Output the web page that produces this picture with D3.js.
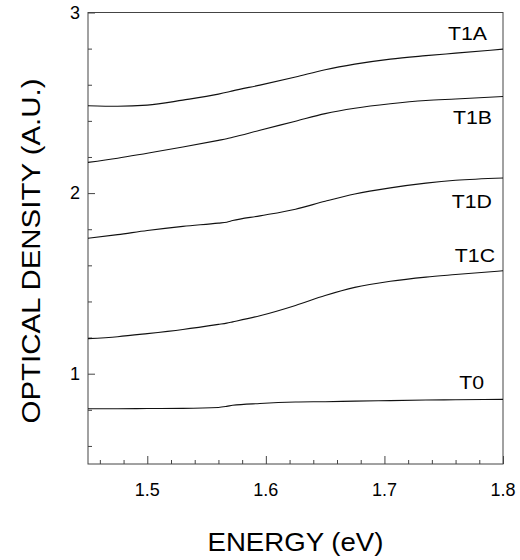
<!DOCTYPE html>
<html>
<head>
<meta charset="utf-8">
<script src="https://cdn.jsdelivr.net/npm/d3@7"></script>
<style>
  body { margin: 0; background: #fff; }
  svg { font-family: Arial, "Liberation Sans", sans-serif; }
</style>
</head>
<body>
<script>
// energy in eV, shared by all curves
const energy = [1.45, 1.475, 1.50, 1.53, 1.56, 1.567, 1.572, 1.595, 1.625, 1.65, 1.675, 1.705, 1.735, 1.76, 1.80]

// optical density for each sample
const t1a = [2.484, 2.481, 2.487, 2.515, 2.548, 2.558, 2.566, 2.598, 2.643, 2.683, 2.714, 2.742, 2.761, 2.775, 2.797]
const t1b = [2.170, 2.193, 2.221, 2.255, 2.292, 2.301, 2.309, 2.348, 2.398, 2.440, 2.470, 2.495, 2.513, 2.521, 2.535]
const t1d = [1.750, 1.770, 1.793, 1.816, 1.834, 1.839, 1.848, 1.874, 1.911, 1.955, 1.995, 2.029, 2.055, 2.071, 2.084]
const t1c = [1.194, 1.205, 1.222, 1.245, 1.273, 1.280, 1.287, 1.321, 1.378, 1.433, 1.478, 1.512, 1.535, 1.549, 1.570]
const t0  = [0.806, 0.806, 0.807, 0.808, 0.813, 0.819, 0.825, 0.835, 0.843, 0.845, 0.848, 0.851, 0.854, 0.856, 0.858]

const seriesNames = ["T1A", "T1B", "T1D", "T1C", "T0"]
const seriesValues = [t1a, t1b, t1d, t1c, t0]
// where each name sits (right end of text, baseline), in data units
const labelEnergy  = [1.7865, 1.7907, 1.7907, 1.7933, 1.784]
const labelDensity = [2.849, 2.384, 1.920, 1.621, 0.913]

const xTicks = [1.5, 1.6, 1.7, 1.8]
const yTicks = [1, 2, 3]

const width = 520, height = 560
const margin = {top: 12.5, right: 17, bottom: 96, left: 88}

const svg = d3.select("body").append("svg")
    .attr("width", width)
    .attr("height", height)

const x = d3.scaleLinear().domain([1.45, 1.8]).range([margin.left, width - margin.right])
const y = d3.scaleLinear().domain([0.5, 3]).range([height - margin.bottom, margin.top])

const frameColor = "#444"

// frame
svg.append("rect")
    .attr("x", x(1.45)).attr("y", y(3))
    .attr("width", x(1.8) - x(1.45)).attr("height", y(0.5) - y(3))
    .attr("fill", "none").attr("stroke", frameColor).attr("stroke-width", 1)

// x axis: major + minor ticks pointing inward
const xMinor = d3.range(1.46, 1.8, 0.02).filter(v => Math.abs(v * 10 - Math.round(v * 10)) > 0.01)
svg.append("g")
    .attr("transform", `translate(0,${y(0.5)})`)
    .call(d3.axisTop(x).tickValues(xMinor).tickSize(4).tickFormat(""))
    .call(g => g.select(".domain").remove())
    .call(g => g.selectAll("line").attr("stroke", frameColor))
svg.append("g")
    .attr("transform", `translate(0,${y(0.5)})`)
    .call(d3.axisTop(x).tickValues(xTicks).tickSize(8).tickFormat(""))
    .call(g => g.select(".domain").remove())
    .call(g => g.selectAll("line").attr("stroke", frameColor))
svg.append("g").selectAll("text")
    .data(xTicks)
    .join("text")
    .attr("x", d => x(d))
    .attr("y", y(0.5) + 32)
    .attr("text-anchor", "middle")
    .attr("font-size", 18)
    .text(d => d3.format(".1f")(d))

// y axis
const yMinor = d3.range(0.6, 3, 0.2).filter(v => Math.abs(v - Math.round(v)) > 0.01)
svg.append("g")
    .attr("transform", `translate(${x(1.45)},0)`)
    .call(d3.axisRight(y).tickValues(yMinor).tickSize(4).tickFormat(""))
    .call(g => g.select(".domain").remove())
    .call(g => g.selectAll("line").attr("stroke", frameColor))
svg.append("g")
    .attr("transform", `translate(${x(1.45)},0)`)
    .call(d3.axisRight(y).tickValues(yTicks).tickSize(7).tickFormat(""))
    .call(g => g.select(".domain").remove())
    .call(g => g.selectAll("line").attr("stroke", frameColor))
svg.append("g").selectAll("text")
    .data(yTicks)
    .join("text")
    .attr("x", x(1.45) - 8)
    .attr("y", d => y(d) + 6)
    .attr("text-anchor", "end")
    .attr("font-size", 18)
    .text(d => d)

// curves
const line = d3.line()
    .x((d, i) => x(energy[i]))
    .y(d => y(d))
    .curve(d3.curveMonotoneX)

svg.append("g").selectAll("path")
    .data(seriesValues)
    .join("path")
    .attr("d", d => line(d))
    .attr("fill", "none")
    .attr("stroke", "#111")
    .attr("stroke-width", 1.1)

// curve labels
svg.append("g").selectAll("text")
    .data(seriesNames)
    .join("text")
    .attr("x", (d, i) => x(labelEnergy[i]))
    .attr("y", (d, i) => y(labelDensity[i]))
    .attr("text-anchor", "end")
    .attr("font-size", 19)
    .attr("transform", (d, i) => `translate(${x(labelEnergy[i])},0) scale(1.12,1) translate(${-x(labelEnergy[i])},0)`)
    .text(d => d)

// axis titles
svg.append("text")
    .attr("x", (x(1.45) + x(1.8)) / 2)
    .attr("y", 551)
    .attr("text-anchor", "middle")
    .attr("font-size", 25)
    .attr("textLength", 176)
    .attr("lengthAdjust", "spacingAndGlyphs")
    .text("ENERGY (eV)")

svg.append("text")
    .attr("transform", `translate(40,251) rotate(-90)`)
    .attr("text-anchor", "middle")
    .attr("font-size", 25)
    .attr("textLength", 345)
    .attr("lengthAdjust", "spacingAndGlyphs")
    .text("OPTICAL DENSITY (A.U.)")
</script>
</body>
</html>
